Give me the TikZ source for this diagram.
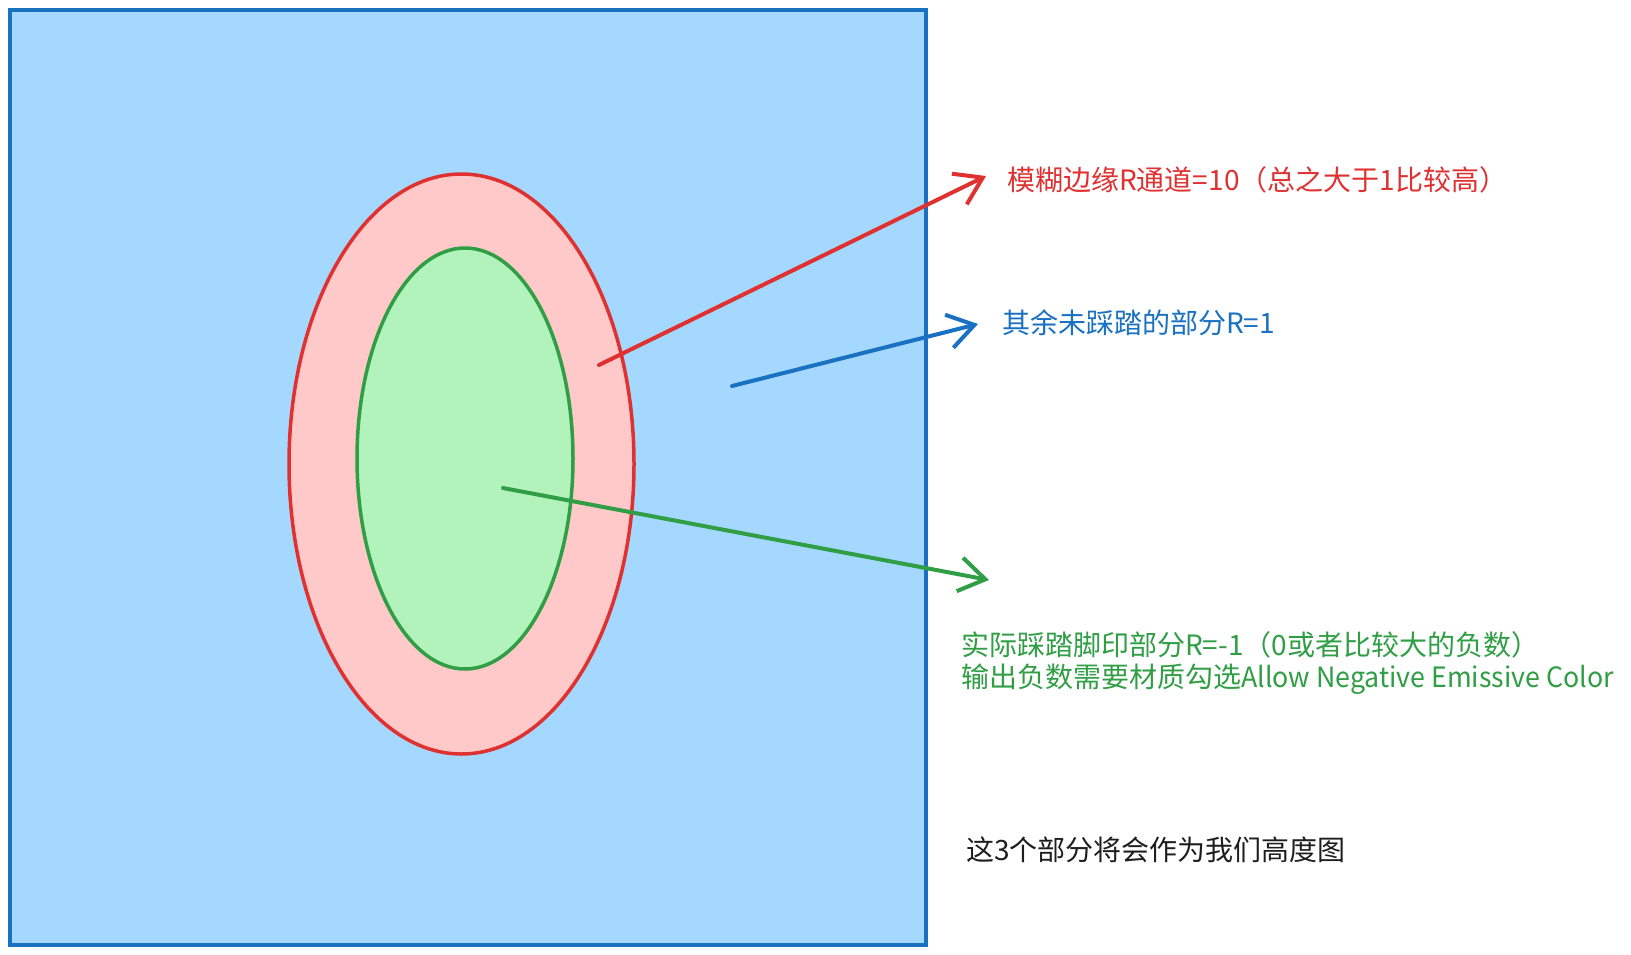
\documentclass[tikz,border=0pt]{standalone}
\usepackage{fontspec}
\setmainfont{Noto Sans CJK SC}
\newfontfamily\narrowlatin[FakeStretch=0.955]{Noto Sans CJK SC}
\usetikzlibrary{arrows.meta,shapes.geometric}
\definecolor{bluefill}{HTML}{A5D8FF}
\definecolor{bluestroke}{HTML}{1971C2}
\definecolor{redfill}{HTML}{FFC9C9}
\definecolor{redstroke}{HTML}{E03131}
\definecolor{greenfill}{HTML}{B2F2BB}
\definecolor{greenstroke}{HTML}{2F9E44}
\definecolor{inkblack}{HTML}{1E1E1E}
\tikzset{
  shapeline/.style={line width=3.5pt},
  pointer/.style={line width=4pt, line cap=round, line join=round,
    -{Straight Barb[length=26pt,width=34pt]}},
  label/.style={anchor=west, inner sep=0pt, font=\fontsize{28}{32.5}\selectfont, align=left},
}
\begin{document}
\begin{tikzpicture}[x=1pt,y=-1pt]
\useasboundingbox (0,0) rectangle (1631,954);
\fill[white] (0,0) rectangle (1631,954);
% background square
\draw[line width=4pt, draw=bluestroke, fill=bluefill] (10,10) rectangle (926,945);
% blurred edge
\node[shapeline, ellipse, draw=redstroke, fill=redfill, minimum width=345pt, minimum height=580pt, inner sep=0pt] (outer) at (461.5,464) {};
% footprint
\node[shapeline, ellipse, draw=greenstroke, fill=greenfill, minimum width=216pt, minimum height=421pt, inner sep=0pt] (inner) at (465,458.5) {};
% labels
\node[label, text=redstroke] (redlab) at (1007,180) {模糊边缘R通道=10（总之大于1比较高）};
\node[label, text=bluestroke] (bluelab) at (1002,323) {其余未踩踏的部分R=1};
\node[label, text=greenstroke] (greenlab) at (961,663) {实际踩踏脚印部分R=-1（0或者比较大的负数）\\输出负数需要材质勾选{\narrowlatin Allow Negative Emissive Color}};
\node[label, text=inkblack] (blacklab) at (966,850) {这3个部分将会作为我们高度图};
% arrows
\coordinate (rs) at (599,365);
\coordinate (re) at (986,176);
\coordinate (bs) at (732,386);
\coordinate (be) at (978,324);
\coordinate (gs) at (503,488);
\coordinate (ge) at (989,580);
\draw[pointer, draw=redstroke] (rs) -- (re);
\draw[pointer, draw=bluestroke] (bs) -- (be);
\draw[pointer, draw=greenstroke] (gs) -- (ge);
\end{tikzpicture}
\end{document}
